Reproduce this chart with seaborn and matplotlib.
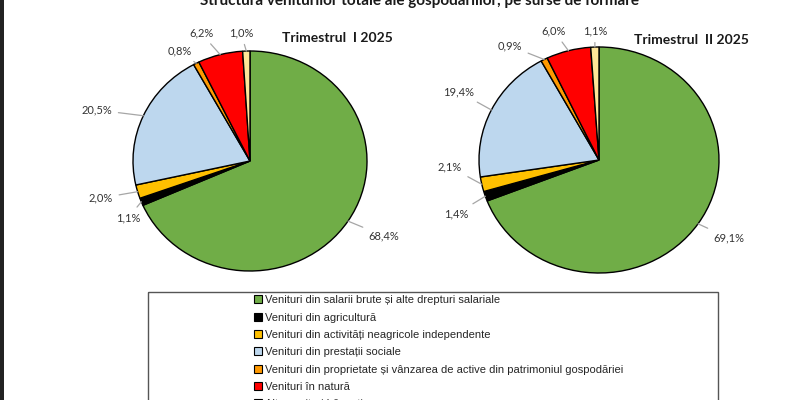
import matplotlib
matplotlib.use("Agg")
import matplotlib.pyplot as plt
import numpy as np
import seaborn as sns
from matplotlib.patches import Patch, Rectangle

# data
categories = [
    "Venituri din salarii brute și alte drepturi salariale",
    "Venituri din agricultură",
    "Venituri din activități neagricole independente",
    "Venituri din prestații sociale",
    "Venituri din proprietate și vânzarea de active din patrimoniul gospodăriei",
    "Venituri în natură",
    "Alte venituri bănești",
]
q1_values = [68.4, 1.1, 2.0, 20.5, 0.8, 6.2, 1.0]
q2_values = [69.1, 1.4, 2.1, 19.4, 0.9, 6.0, 1.1]
pie_titles = ["Trimestrul  I 2025", "Trimestrul  II 2025"]
main_title = "Structura veniturilor totale ale gospodăriilor, pe surse de formare"

colors = ["#70AD47", "#000000", "#FFC000", "#BDD7EE", "#FF9900", "#FF0000", "#FFE699"]

# layout (pixels, y downward)
W, H = 800, 400
pie_layout = [
    dict(cx=250, cy=161, rx=117, ry=110, title_xy=(337, 38),
         label_xy=[(384, 236), (128, 218), (101, 198), (97, 110), (180, 51), (201, 33), (241, 33)]),
    dict(cx=599, cy=160, rx=120, ry=113, title_xy=(691, 40),
         label_xy=[(729, 238), (456, 214), (450, 167), (459, 92), (510, 46), (554, 31), (595, 31)]),
]

sns.set_theme(style="white")
plt.rcParams["font.family"] = ["Liberation Sans", "DejaVu Sans"]

fig = plt.figure(figsize=(8, 4), dpi=100)
fig.patch.set_facecolor("white")

label_font = ["Lato", "DejaVu Sans"]


def fmt(v):
    return f"{v:.1f}%".replace(".", ",")


overlay = fig.add_axes([0, 0, 1, 1], zorder=5)
overlay.set_xlim(0, W)
overlay.set_ylim(H, 0)
overlay.axis("off")
overlay.patch.set_alpha(0)

for values, title, lay in zip([q1_values, q2_values], pie_titles, pie_layout):
    cx, cy, rx, ry = lay["cx"], lay["cy"], lay["rx"], lay["ry"]
    ax = fig.add_axes([(cx - rx) / W, (H - cy - ry) / H, 2 * rx / W, 2 * ry / H])
    ax.pie(values, colors=colors, startangle=90, counterclock=False,
           wedgeprops=dict(edgecolor="black", linewidth=1.0))
    ax.set_aspect("auto")
    ax.set_xlim(-1, 1)
    ax.set_ylim(-1, 1)
    for w in ax.patches:
        w.set_clip_on(False)

    # labels with leader lines
    frac = np.cumsum([0] + values) / sum(values)
    mids = (frac[:-1] + frac[1:]) / 2
    for v, m, (lx, ly) in zip(values, mids, lay["label_xy"]):
        ang = np.deg2rad(90 - m * 360)
        ex = cx + rx * np.cos(ang)
        ey = cy - ry * np.sin(ang)
        overlay.annotate(fmt(v), xy=(ex, ey), xytext=(lx, ly),
                         ha="center", va="center", fontsize=8, family=label_font,
                         color="#333333",
                         arrowprops=dict(arrowstyle="-", color="#A6A6A6", lw=0.9,
                                         shrinkA=2, shrinkB=0))

    overlay.text(*lay["title_xy"], title, ha="center", va="center",
                 fontsize=10, fontweight="bold", family=label_font, color="#1a1a1a")

overlay.text(420, 8, main_title, ha="center", va="bottom", fontsize=11,
             fontweight="bold", family=label_font, color="#1a1a1a")

# legend frame
overlay.add_patch(Rectangle((148, 292), 570, 130, facecolor="none",
                            edgecolor="#555555", linewidth=1.0, clip_on=False))
handles = [Patch(facecolor=c, edgecolor="black", linewidth=0.8) for c in colors]
fig.legend(handles, categories, loc="upper left", bbox_to_anchor=(252 / W, 1 - 293 / H),
           frameon=False, fontsize=8, handlelength=0.7, handleheight=0.7,
           handletextpad=0.3, labelspacing=0.66, borderaxespad=0, borderpad=0.2)

# dark strip on the left edge of the screenshot
fig.patches.append(Rectangle((0, 0), 4 / W, 1, transform=fig.transFigure,
                             facecolor="#222222", edgecolor="none", zorder=10))

fig.savefig("out.png", dpi=100)
